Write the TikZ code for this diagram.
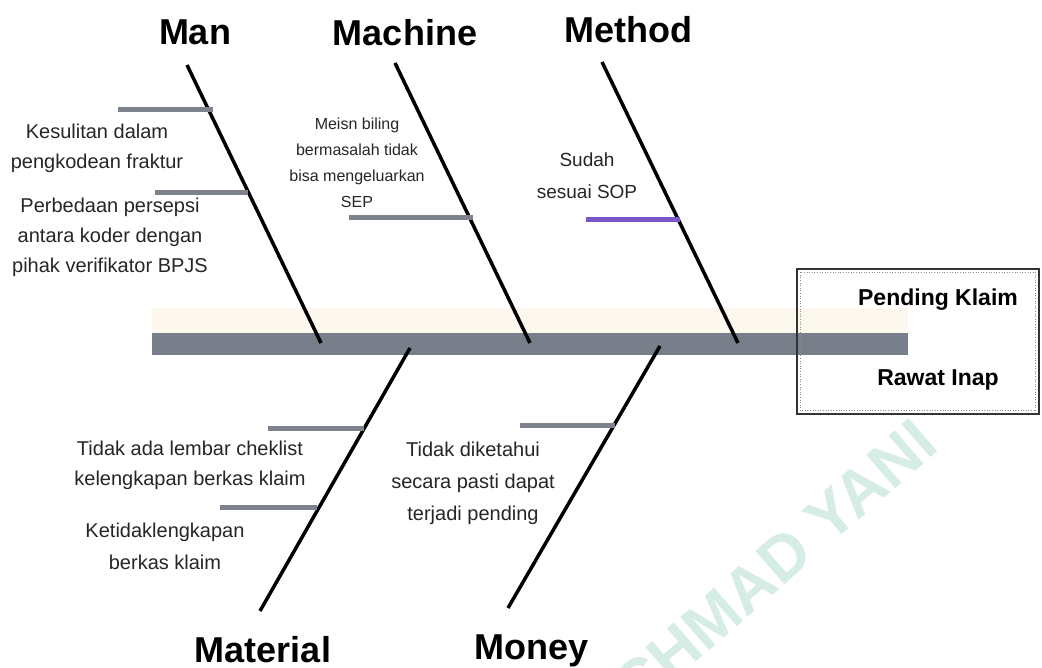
\documentclass[tikz,border=0pt]{standalone}
\usepackage{fontspec}
\setmainfont{Liberation Sans}
\definecolor{spinegray}{HTML}{787E8A}
\definecolor{ribgray}{HTML}{7D828C}
\definecolor{cream}{HTML}{FDF8EE}
\definecolor{ribpurple}{HTML}{7A56C9}
\definecolor{mint}{HTML}{D6EDE3}
\definecolor{labgray}{HTML}{262626}
\begin{document}
\begin{tikzpicture}[x=1pt,y=-1pt,
  bone/.style={line width=3.5pt, black},
  rib/.style={line width=5pt, ribgray},
  head/.style={font=\fontsize{36}{40}\selectfont\bfseries, inner sep=0, anchor=base},
  lab/.style={font=\fontsize{20}{30}\selectfont, align=center, inner sep=0, text=labgray},
  small/.style={font=\fontsize{16}{26}\selectfont, align=center, inner sep=0, text=labgray},
  boxtext/.style={font=\fontsize{23}{26}\selectfont\bfseries, inner sep=0},
]
\useasboundingbox (0,0) rectangle (1042,668);
\fill[white] (0,0) rectangle (1042,668);
\begin{scope}
\clip (0,0) rectangle (1042,668);
\node[rotate=41, text=mint, font=\fontsize{64}{70}\selectfont\bfseries] (wm) at (757,580) {ACHMAD YANI};
\end{scope}
% spine
\fill[cream] (152,308) rectangle (908,333);
\fill[spinegray] (152,333) rectangle (908,355);
% effect box
\node[draw=black!80, line width=1.5pt, minimum width=242pt, minimum height=145pt, inner sep=0] (box) at (918,341.5) {};
\draw[black!45, dotted, line width=0.6pt] ([shift={(4pt,-4pt)}]box.north west) rectangle ([shift={(-4pt,4pt)}]box.south east);
\node[boxtext] (eff1) at (938,300) {Pending Klaim};
\node[boxtext] (eff2) at (938,380) {Rawat Inap};
% bones
\coordinate (manT) at (187,65);  \coordinate (manB) at (321,343);
\coordinate (macT) at (395,63);  \coordinate (macB) at (530,343);
\coordinate (metT) at (602,62);  \coordinate (metB) at (738,343);
\coordinate (matT) at (410,348); \coordinate (matB) at (260,611);
\coordinate (monT) at (660,346); \coordinate (monB) at (508,608);
\draw[bone] (manT) -- (manB);
\draw[bone] (macT) -- (macB);
\draw[bone] (metT) -- (metB);
\draw[bone] (matT) -- (matB);
\draw[bone] (monT) -- (monB);
% ribs
\coordinate (r1a) at (118,110); \coordinate (r1b) at (213,110);
\coordinate (r2a) at (155,193); \coordinate (r2b) at (248,193);
\coordinate (r3a) at (349,218); \coordinate (r3b) at (473,218);
\coordinate (r4a) at (586,220); \coordinate (r4b) at (680,220);
\coordinate (r5a) at (268,428); \coordinate (r5b) at (364,428);
\coordinate (r6a) at (220,507); \coordinate (r6b) at (317,507);
\coordinate (r7a) at (520,425); \coordinate (r7b) at (615,425);
\draw[rib] (r1a) -- (r1b);
\draw[rib] (r2a) -- (r2b);
\draw[rib] (r3a) -- (r3b);
\draw[rib, ribpurple] (r4a) -- (r4b);
\draw[rib] (r5a) -- (r5b);
\draw[rib] (r6a) -- (r6b);
\draw[rib] (r7a) -- (r7b);
% headings
\node[head] (hMan) at (195,45) {Man};
\node[head] (hMac) at (405,46) {Machine};
\node[head] (hMet) at (628,43) {Method};
\node[head] (hMat) at (263,662) {Material};
\node[head] (hMon) at (532,659) {Money};
% labels
\node[lab] (l1) at (97,148) {Kesulitan dalam\\pengkodean fraktur};
\node[lab] (l2) at (110,237) {Perbedaan persepsi\\antara koder dengan\\pihak verifikator BPJS};
\node[small] (l3) at (357,163) {Meisn biling\\bermasalah tidak\\bisa mengeluarkan\\SEP};
\node[lab, font=\fontsize{19}{32}\selectfont] (l4) at (587,176) {Sudah\\sesuai SOP};
\node[lab] (l5) at (190,465) {Tidak ada lembar cheklist\\kelengkapan berkas klaim};
\node[lab, font=\fontsize{20}{32}\selectfont] (l6) at (165,546) {Ketidaklengkapan\\berkas klaim};
\node[lab, font=\fontsize{20}{32}\selectfont] (l7) at (473,483) {Tidak diketahui\\secara pasti dapat\\terjadi pending};
\end{tikzpicture}
\end{document}
